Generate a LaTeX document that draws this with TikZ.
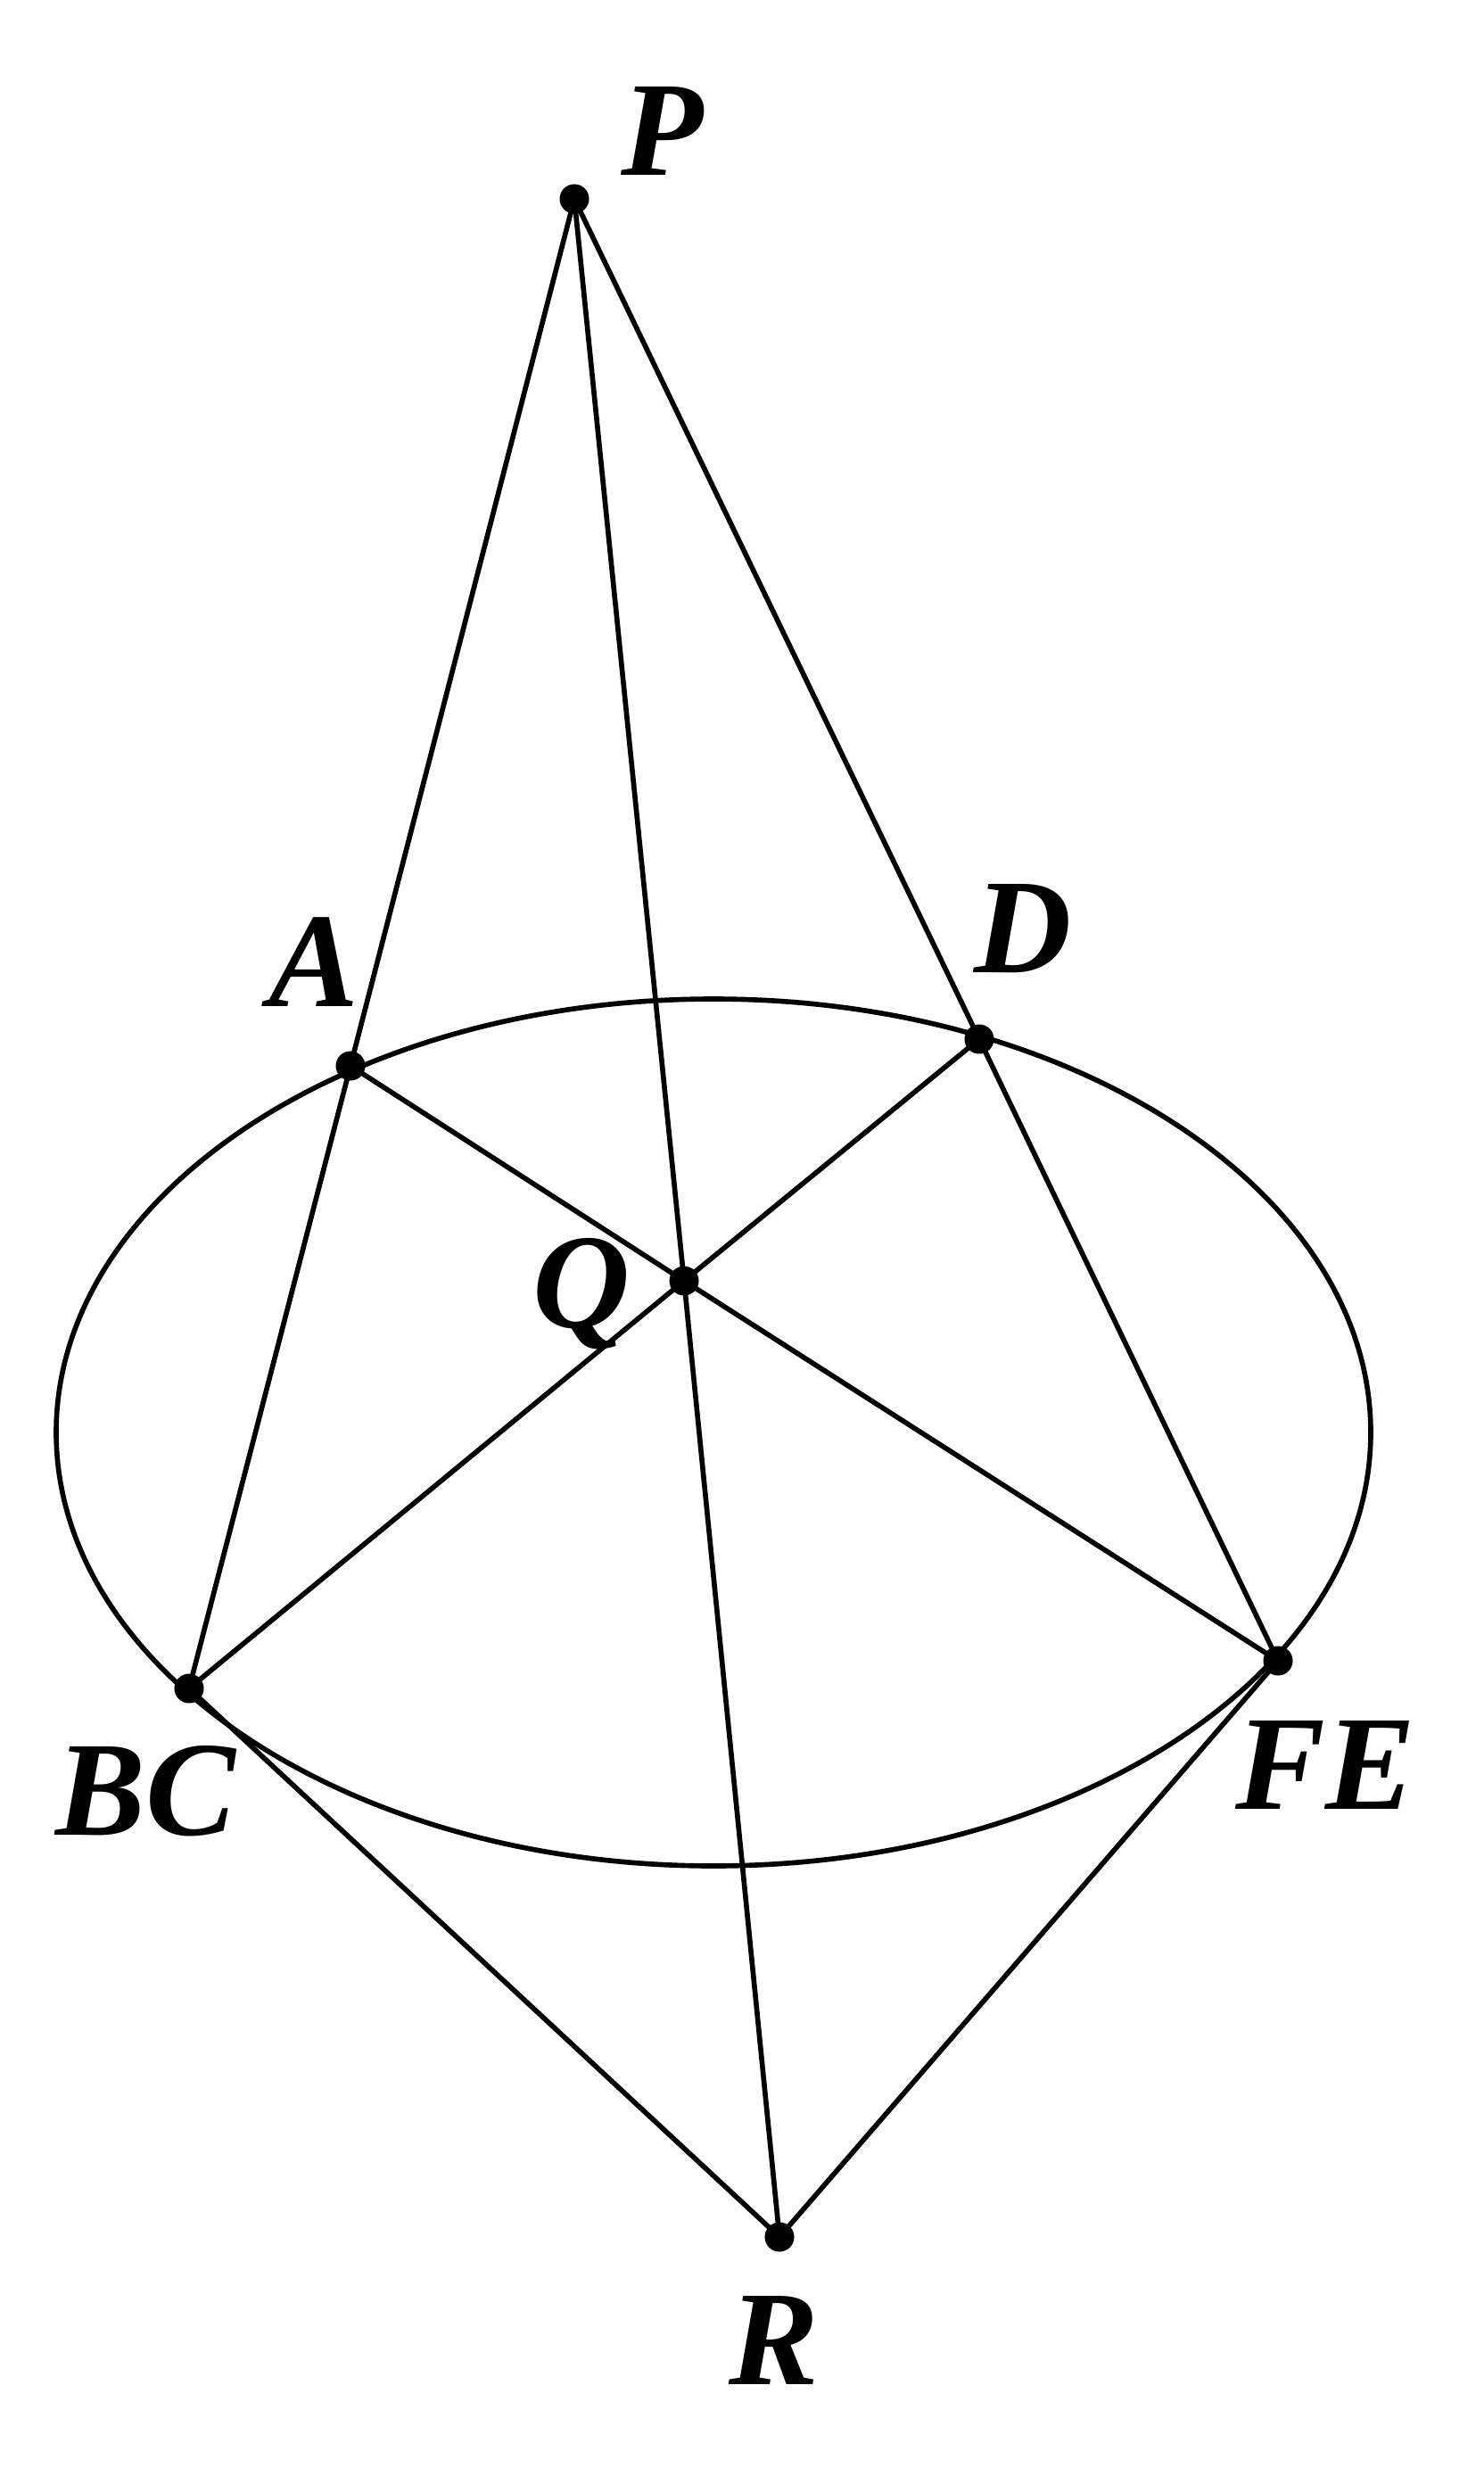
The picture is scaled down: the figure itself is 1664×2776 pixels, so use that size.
\documentclass[tikz,border=0pt]{standalone}
\usepackage{fontspec}
\newfontfamily\lblfont{Liberation Serif Bold Italic}
\begin{document}
\begin{tikzpicture}[x=0.01cm,y=-0.01cm,
  seg/.style={line width=1.6pt},
  pt/.style={circle,fill=black,inner sep=0pt,minimum size=0.33cm},
  lbl/.style={inner sep=0pt,anchor=base,font=\fontsize{43}{43}\lblfont}]
\useasboundingbox (0,0) rectangle (1664,2776);
\coordinate (P) at (644,223);
\coordinate (A) at (393,1195);
\coordinate (D) at (1098,1165);
\coordinate (Q) at (767,1436);
\coordinate (BC) at (212,1893);
\coordinate (FE) at (1433,1862);
\coordinate (R) at (874,2508);
\draw[seg] (800,1606) ellipse [x radius=737, y radius=486];
\draw[seg] (P) -- (A) -- (BC);
\draw[seg] (P) -- (D) -- (FE);
\draw[seg] (P) -- (Q) -- (R);
\draw[seg] (A) -- (Q) -- (FE);
\draw[seg] (D) -- (Q) -- (BC);
\draw[seg] (BC) -- (R) -- (FE);
\foreach \n in {P,A,D,Q,BC,FE,R} \node[pt] (d\n) at (\n) {};
\node[lbl] (lP) at (743,197) {P};
\node[lbl] (lA) at (352,1128) {A};
\node[lbl] (lD) at (1147,1090) {D};
\node[lbl] (lQ) at (652,1488) {Q};
\node[lbl] (lBC) at (163,2057) {BC};
\node[lbl] (lFE) at (1486,2028) {FE};
\node[lbl] (lR) at (868,2673) {R};
\end{tikzpicture}
\end{document}
